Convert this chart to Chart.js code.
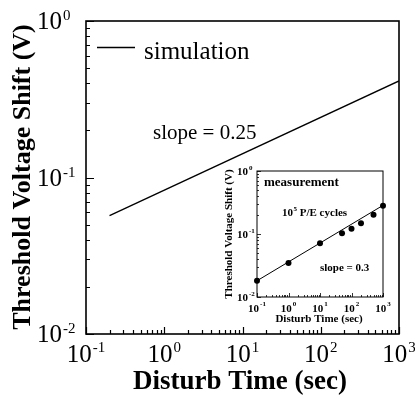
<!DOCTYPE html>
<html>
<head>
<meta charset="utf-8">
<script src="https://cdn.jsdelivr.net/npm/chart.js@4.4.1/dist/chart.umd.min.js"></script>
<style>
  html, body { margin: 0; padding: 0; background: #fff; }
  #wrap { position: relative; width: 415px; height: 400px; }
  #main { position: absolute; left: 0; top: 0; }
  #inset { position: absolute; left: 215px; top: 160px; }
</style>
</head>
<body>
<div id="wrap">
  <canvas id="main" width="415" height="400"></canvas>
  <canvas id="inset" width="185" height="170"></canvas>
</div>
<script>
// Simulated threshold-voltage shift vs. disturb time
const simTime  = [0.2, 1000];
const simShift = [0.057, 0.414];

// Measured shift after 1e5 P/E cycles
const measTime  = [0.1, 1, 10, 50, 100, 200, 500, 1000];
const measShift = [0.0181, 0.0347, 0.0711, 0.1026, 0.1215, 0.148, 0.203, 0.282];

// Power-law fit through the measurement
const fitTime  = [0.1, 1000];
const fitShift = [0.0181, 0.285];

// Decade exponents labelled on each axis (labels read "10" with this superscript)
const timeExponents  = ['-1', '0', '1', '2', '3'];
const shiftExponents = ['-2', '-1', '0'];

// Axis ranges
const timeRange  = [0.1, 1000];
const shiftRange = [0.01, 1];

const SERIF = '"Liberation Serif", "Times New Roman", serif';

function toPoints(xs, ys) {
  return xs.map((x, i) => ({ x: x, y: ys[i] }));
}

// 1..9 x 10^n ticks across the range; the 1 x 10^n ones are major
function decadeTicks(min, max) {
  const out = [];
  const e0 = Math.floor(Math.log10(min) + 1e-9);
  const e1 = Math.ceil(Math.log10(max) - 1e-9);
  for (let e = e0; e <= e1; e++) {
    for (let m = 1; m <= 9; m++) {
      const v = m * Math.pow(10, e);
      if (v >= min * 0.999 && v <= max * 1.001) out.push({ value: v, major: m === 1 });
    }
  }
  return out;
}

function logScale(range, fitFn) {
  return {
    type: 'logarithmic',
    min: range[0],
    max: range[1],
    grid: { display: false },
    border: { display: false },
    ticks: { display: false },
    afterBuildTicks: s => { s.ticks = decadeTicks(range[0], range[1]); },
    afterFit: fitFn
  };
}

// "10" followed by a raised exponent
function powerLabel(ctx, x, y, exp, baseFont, expFont, expRise, align) {
  ctx.font = baseFont;
  const wb = ctx.measureText('10').width;
  ctx.font = expFont;
  const we = ctx.measureText(exp).width;
  const gap = 1;
  let x0 = x;
  if (align === 'center') x0 = x - (wb + gap + we) / 2;
  ctx.textAlign = 'left';
  ctx.textBaseline = 'alphabetic';
  ctx.font = baseFont;
  ctx.fillText('10', x0, y);
  ctx.font = expFont;
  ctx.fillText(exp, x0 + wb + gap, y - expRise);
}

function drawFrameAndTicks(chart, st) {
  const ctx = chart.ctx;
  const a = chart.chartArea;
  const xs = chart.scales.x, ys = chart.scales.y;
  ctx.save();
  ctx.strokeStyle = '#000';
  ctx.lineWidth = st.tickWidth;
  ctx.beginPath();
  xs.ticks.forEach(t => {
    const px = Math.round(xs.getPixelForValue(t.value)) + 0.5;
    const len = t.major ? st.xMajor : st.xMinor;
    ctx.moveTo(px, a.bottom);
    ctx.lineTo(px, a.bottom - len);
  });
  ys.ticks.forEach(t => {
    const py = Math.round(ys.getPixelForValue(t.value)) + 0.5;
    const len = t.major ? st.yMajor : st.yMinor;
    ctx.moveTo(a.left, py);
    ctx.lineTo(a.left + len, py);
  });
  ctx.stroke();
  ctx.lineWidth = st.frameWidth;
  ctx.strokeRect(a.left, a.top, a.right - a.left, a.bottom - a.top);
  ctx.restore();
}

// ---------- main chart ----------
const mainDecor = {
  id: 'mainDecor',
  afterDraw(chart) {
    const ctx = chart.ctx;
    const xs = chart.scales.x, ys = chart.scales.y;
    drawFrameAndTicks(chart, { tickWidth: 1.2, frameWidth: 1.6, xMajor: 7, xMinor: 4, yMajor: 8, yMinor: 4 });
    ctx.save();
    ctx.fillStyle = '#000';
    timeExponents.forEach(e => {
      const px = xs.getPixelForValue(Math.pow(10, +e));
      powerLabel(ctx, px, 362, e, '25px ' + SERIF, '15px ' + SERIF, 10, 'center');
    });
    shiftExponents.forEach(e => {
      const py = ys.getPixelForValue(Math.pow(10, +e));
      powerLabel(ctx, 37, py + 8, e, '25px ' + SERIF, '15px ' + SERIF, 9, 'left');
    });
    // axis titles
    ctx.font = 'bold 27px ' + SERIF;
    ctx.textAlign = 'center';
    ctx.textBaseline = 'alphabetic';
    ctx.fillText('Disturb Time (sec)', 240, 389);
    ctx.font = 'bold 26px ' + SERIF;
    ctx.save();
    ctx.translate(30, 177);
    ctx.rotate(-Math.PI / 2);
    ctx.fillText('Threshold Voltage Shift (V)', 0, 0);
    ctx.restore();
    // legend
    ctx.lineWidth = 1.3;
    ctx.beginPath();
    ctx.moveTo(97, 47.5);
    ctx.lineTo(135, 47.5);
    ctx.stroke();
    ctx.font = '25px ' + SERIF;
    ctx.textAlign = 'left';
    ctx.fillText('simulation', 144, 59);
    // slope annotation
    ctx.font = '21px ' + SERIF;
    ctx.fillText('slope = 0.25', 153, 139);
    ctx.restore();
  }
};

new Chart(document.getElementById('main'), {
  type: 'line',
  data: {
    datasets: [{
      label: 'simulation',
      data: toPoints(simTime, simShift),
      borderColor: '#000',
      borderWidth: 1.3,
      pointRadius: 0,
      fill: false,
      tension: 0
    }]
  },
  options: {
    responsive: false,
    animation: false,
    devicePixelRatio: 1,
    layout: { padding: { top: 21, right: 16, left: 0, bottom: 0 } },
    plugins: { legend: { display: false }, tooltip: { enabled: false } },
    scales: {
      x: logScale(timeRange, s => { s.height = 66; }),
      y: logScale(shiftRange, s => { s.width = 86; })
    }
  },
  plugins: [mainDecor]
});

// ---------- inset chart ----------
const insetDecor = {
  id: 'insetDecor',
  beforeDraw(chart) {
    const ctx = chart.ctx;
    const a = chart.chartArea;
    ctx.save();
    ctx.fillStyle = '#fff';
    ctx.fillRect(a.left, a.top, a.right - a.left, a.bottom - a.top);
    ctx.restore();
  },
  afterDraw(chart) {
    const ctx = chart.ctx;
    const xs = chart.scales.x, ys = chart.scales.y;
    drawFrameAndTicks(chart, { tickWidth: 0.8, frameWidth: 1, xMajor: 4, xMinor: 2, yMajor: 4, yMinor: 2 });
    ctx.save();
    ctx.fillStyle = '#000';
    timeExponents.forEach(e => {
      const px = xs.getPixelForValue(Math.pow(10, +e));
      powerLabel(ctx, px, 151.5, e, 'bold 11px ' + SERIF, 'bold 7px ' + SERIF, 6, 'center');
    });
    shiftExponents.forEach(e => {
      const py = ys.getPixelForValue(Math.pow(10, +e));
      powerLabel(ctx, 22, py + 4, e, 'bold 11px ' + SERIF, 'bold 7px ' + SERIF, 5, 'left');
    });
    ctx.font = 'bold 11px ' + SERIF;
    ctx.textAlign = 'center';
    ctx.textBaseline = 'alphabetic';
    ctx.fillText('Disturb Time (sec)', 104, 162);
    ctx.save();
    ctx.translate(17, 74);
    ctx.rotate(-Math.PI / 2);
    ctx.fillText('Threshold Voltage Shift (V)', 0, 0);
    ctx.restore();
    ctx.textAlign = 'left';
    ctx.font = 'bold 13px ' + SERIF;
    ctx.fillText('measurement', 49, 26);
    // "10^5 P/E cycles"
    ctx.font = 'bold 11px ' + SERIF;
    const x0 = 67;
    ctx.fillText('10', x0, 56);
    const w10 = ctx.measureText('10').width;
    ctx.font = 'bold 7px ' + SERIF;
    ctx.fillText('5', x0 + w10 + 0.5, 51);
    const w5 = ctx.measureText('5').width;
    ctx.font = 'bold 11px ' + SERIF;
    ctx.fillText(' P/E cycles', x0 + w10 + 0.5 + w5, 56);
    ctx.fillText('slope = 0.3', 105, 111);
    ctx.restore();
  }
};

new Chart(document.getElementById('inset'), {
  type: 'line',
  data: {
    datasets: [
      {
        label: 'fit',
        data: toPoints(fitTime, fitShift),
        borderColor: '#000',
        borderWidth: 1,
        pointRadius: 0,
        fill: false,
        tension: 0
      },
      {
        label: 'measurement',
        data: toPoints(measTime, measShift),
        showLine: false,
        clip: false,
        pointRadius: 3,
        pointBackgroundColor: '#000',
        pointBorderColor: '#000',
        pointBorderWidth: 0
      }
    ]
  },
  options: {
    responsive: false,
    animation: false,
    devicePixelRatio: 1,
    layout: { padding: { top: 11, right: 17, left: 0, bottom: 0 } },
    plugins: { legend: { display: false }, tooltip: { enabled: false } },
    scales: {
      x: logScale(timeRange, s => { s.height = 33; }),
      y: logScale(shiftRange, s => { s.width = 42; })
    }
  },
  plugins: [insetDecor]
});
</script>
</body>
</html>
